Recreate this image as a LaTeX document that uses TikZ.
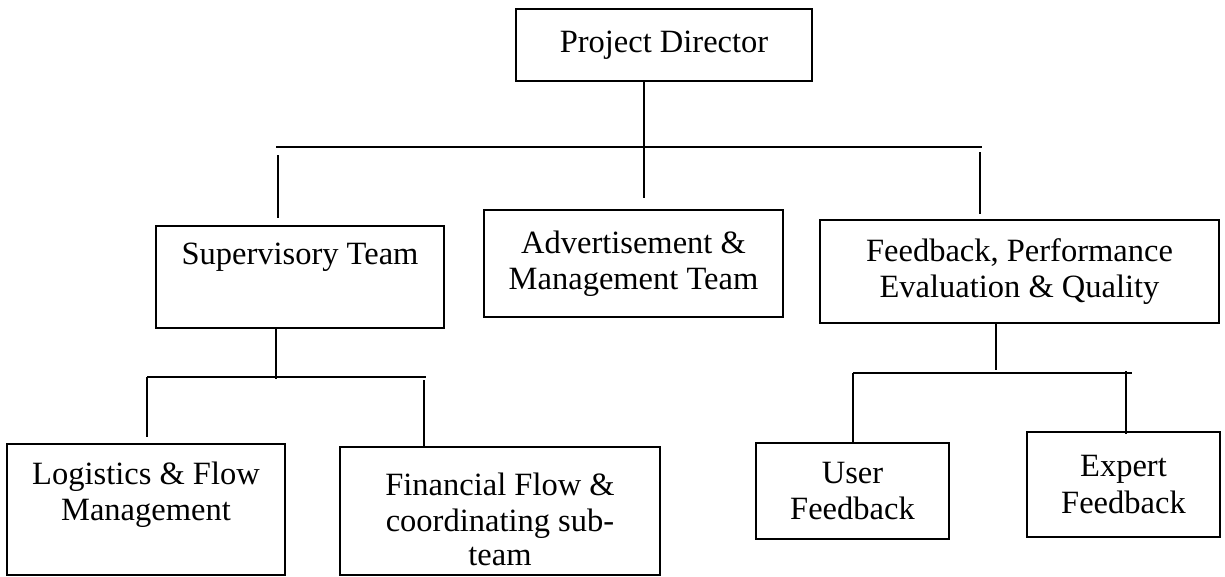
\documentclass[tikz,border=0pt]{standalone}
\usepackage{fontspec}
\setmainfont{Liberation Serif}
\usetikzlibrary{calc}

\begin{document}
\begin{tikzpicture}[x=0.02cm, y=-0.02cm,
  box/.style={draw, line width=1pt, align=center, inner sep=0pt, font=\fontsize{18.5}{20.5}\selectfont},
  link/.style={line width=1pt}]
\useasboundingbox (0,0) rectangle (1225,576);
% boxes
\node[box, minimum width=5.92cm, minimum height=1.44cm] (pd) at (664,45) {Project Director};
\node[box, minimum width=5.76cm, minimum height=2.04cm] (sup) at (300,277) {Supervisory Team\\ \strut};
\node[box, minimum width=5.98cm, minimum height=2.14cm] (adv) at (633.5,263.5) {Advertisement \&\\Management Team};
\node[box, minimum width=7.98cm, minimum height=2.06cm] (fb) at (1019.5,271.5) {Feedback, Performance\\Evaluation \& Quality};
\node[box, minimum width=5.56cm, minimum height=2.62cm, text height=17pt] (log) at (146,509.5) {Logistics \& Flow\\Management};
\node[box, minimum width=6.4cm, minimum height=2.56cm, text height=62pt] (fin) at (500,511) {Financial Flow \&\\coordinating sub-\\[-1pt]team};
\node[box, minimum width=3.86cm, minimum height=1.92cm] (user) at (852.5,491) {User\\Feedback};
\node[box, minimum width=3.86cm, minimum height=2.1cm] (exp) at (1123.5,484.5) {Expert\\Feedback};

% top level
\coordinate (busL) at (276,147);
\coordinate (busR) at (982,147);
\coordinate (pdend) at (644,198);
\draw[link] (busL) -- (busR);
\draw[link] (pd.south -| pdend) -- (pdend);
\coordinate (supcon) at (278,155);
\draw[link] (supcon) -- ($(sup.north -| supcon)+(0,-7)$);
\coordinate (fbcon) at (980,152);
\draw[link] (fbcon) -- ($(fb.north -| fbcon)+(0,-5)$);

% supervisory branch
\coordinate (subtap) at (276,379);
\draw[link] (sup.south -| subtap) -- (subtap);
\coordinate (subL) at (147,377);
\coordinate (subR) at (426,377);
\draw[link] (subL) -- (subR);
\draw[link] (subL) -- ($(log.north -| subL)+(0,-6)$);
\coordinate (fincon) at (424,380);
\draw[link] (fincon) -- (fin.north -| fincon);

% feedback branch
\coordinate (fbtap) at (996,370);
\draw[link] (fb.south -| fbtap) -- (fbtap);
\coordinate (fbL) at (853,373);
\coordinate (fbR) at (1132,373);
\draw[link] (fbL) -- (fbR);
\draw[link] (fbL) -- (user.north -| fbL);
\coordinate (expcon) at (1126,371);
\draw[link] (expcon) -- ($(exp.north -| expcon)+(0,3)$);
\end{tikzpicture}
\end{document}
